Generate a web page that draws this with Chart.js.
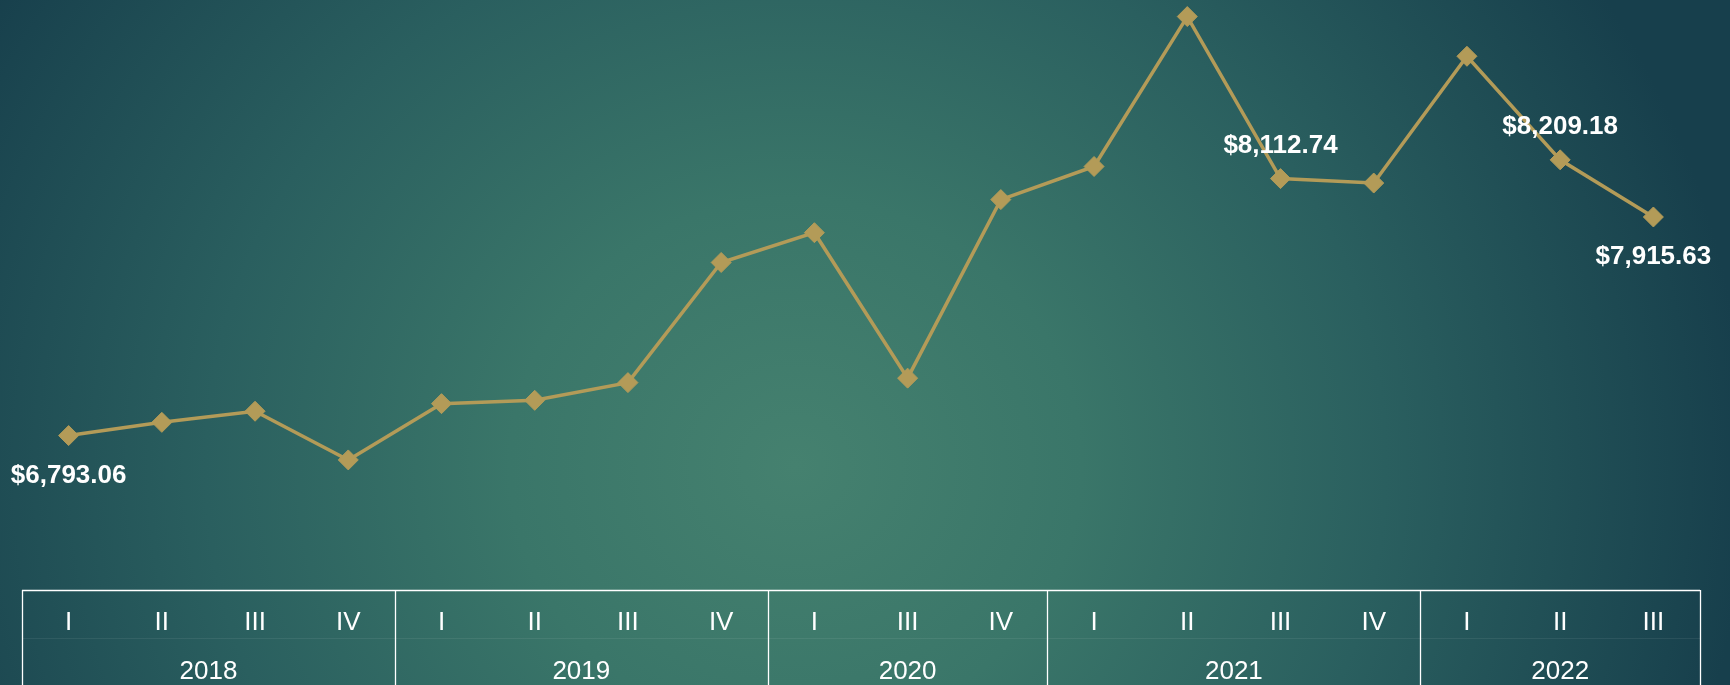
<!DOCTYPE html>
<html>
<head>
<meta charset="utf-8">
<script src="https://cdn.jsdelivr.net/npm/chart.js@4/dist/chart.umd.min.js"></script>
<style>
  html, body { margin: 0; padding: 0; }
  body {
    width: 1730px; height: 685px; overflow: hidden;
    background: radial-gradient(ellipse 55% 130% at 46% 68%, #45816f 0%, #3a7669 30%, #2a5f5f 62%, #173f4c 100%);
  }
  #wrap { position: relative; width: 1730px; height: 685px; }
</style>
</head>
<body>
<div id="wrap"><canvas id="priceChart" width="1730" height="685"></canvas></div>
<script>
// quarters shown on the axis, and the year each one belongs to
const quarters = ['I', 'II', 'III', 'IV', 'I', 'II', 'III', 'IV', 'I', 'III', 'IV', 'I', 'II', 'III', 'IV', 'I', 'II', 'III'];
const years = ['2018', '2018', '2018', '2018', '2019', '2019', '2019', '2019', '2020', '2020', '2020', '2021', '2021', '2021', '2021', '2022', '2022', '2022'];
const prices = [6793.06, 6861, 6918, 6668, 6957, 6974, 7065, 7682, 7835, 7088, 8005, 8175, 8945, 8112.74, 8090, 8741, 8209.18, 7915.63];
// which points get a value label, and on which side
const labelled = { 0: 'below', 13: 'above', 16: 'above', 17: 'below' };

const gold = '#b39b58';

function money(v) {
    return '$' + v.toLocaleString('en-US', { minimumFractionDigits: 2, maximumFractionDigits: 2 });
}

const groupAxis = {
    id: 'groupAxis',
    afterDraw(chart) {
        const ctx = chart.ctx;
        const x = chart.scales.x;
        const top = x.top;
        const bottom = chart.height;
        const left = chart.chartArea.left;
        const right = chart.chartArea.right;

        // find where each year starts and ends
        const groups = [];
        years.forEach((y, i) => {
            const last = groups[groups.length - 1];
            if (last && last.year === y) last.end = i;
            else groups.push({ year: y, start: i, end: i });
        });

        ctx.save();
        // faint line between the two label rows
        ctx.strokeStyle = 'rgba(255,255,255,0.07)';
        ctx.lineWidth = 1;
        ctx.beginPath();
        ctx.moveTo(left, top + 48.5);
        ctx.lineTo(right, top + 48.5);
        ctx.stroke();

        ctx.strokeStyle = '#ffffff';
        ctx.lineWidth = 1.5;
        ctx.beginPath();
        ctx.moveTo(left, top + 0.5);
        ctx.lineTo(right, top + 0.5);
        ctx.stroke();

        ctx.lineWidth = 1.3;
        const edges = [left];
        groups.forEach((g, gi) => {
            if (gi < groups.length - 1) {
                edges.push((x.getPixelForValue(g.end) + x.getPixelForValue(g.end + 1)) / 2);
            }
        });
        edges.push(right);
        edges.forEach(ex => {
            ctx.beginPath();
            ctx.moveTo(Math.round(ex) + 0.5, top);
            ctx.lineTo(Math.round(ex) + 0.5, bottom);
            ctx.stroke();
        });

        ctx.fillStyle = '#ffffff';
        ctx.font = '26px "Liberation Sans", Arial, sans-serif';
        ctx.textAlign = 'center';
        ctx.textBaseline = 'middle';
        groups.forEach((g, gi) => {
            const cx = (edges[gi] + edges[gi + 1]) / 2;
            ctx.fillText(g.year, cx, top + 82);
        });
        ctx.restore();
    }
};

const valueLabels = {
    id: 'valueLabels',
    afterDatasetsDraw(chart) {
        const ctx = chart.ctx;
        const meta = chart.getDatasetMeta(0);
        ctx.save();
        ctx.fillStyle = '#ffffff';
        ctx.font = 'bold 26px "Liberation Sans", Arial, sans-serif';
        ctx.textAlign = 'center';
        ctx.textBaseline = 'middle';
        Object.keys(labelled).forEach(k => {
            const pt = meta.data[k];
            const dy = labelled[k] === 'above' ? -33 : 40;
            ctx.fillText(money(prices[k]), pt.x, pt.y + dy);
        });
        ctx.restore();
    }
};

const ctx = document.getElementById('priceChart').getContext('2d');
new Chart(ctx, {
    type: 'line',
    data: {
        labels: quarters,
        datasets: [{
            data: prices,
            borderColor: gold,
            borderWidth: 3.5,
            backgroundColor: gold,
            pointStyle: 'rectRot',
            pointRadius: 10,
            pointBorderWidth: 1,
            pointBorderColor: gold,
            pointBackgroundColor: gold,
            tension: 0,
            clip: false
        }]
    },
    options: {
        responsive: false,
        animation: false,
        devicePixelRatio: 1,
        layout: { autoPadding: false, padding: { left: 22, right: 30, top: 0, bottom: 0 } },
        plugins: {
            legend: { display: false },
            tooltip: { enabled: false }
        },
        scales: {
            x: {
                offset: true,
                grid: { display: false },
                border: { display: false },
                ticks: {
                    color: '#ffffff',
                    font: { family: '"Liberation Sans", Arial, sans-serif', size: 26 },
                    padding: 9.5,
                    autoSkip: false,
                    maxRotation: 0
                },
                afterFit(scale) { scale.height = 95; }
            },
            y: {
                display: false,
                min: 6000,
                max: 9030
            }
        }
    },
    plugins: [groupAxis, valueLabels]
});
</script>
</body>
</html>
